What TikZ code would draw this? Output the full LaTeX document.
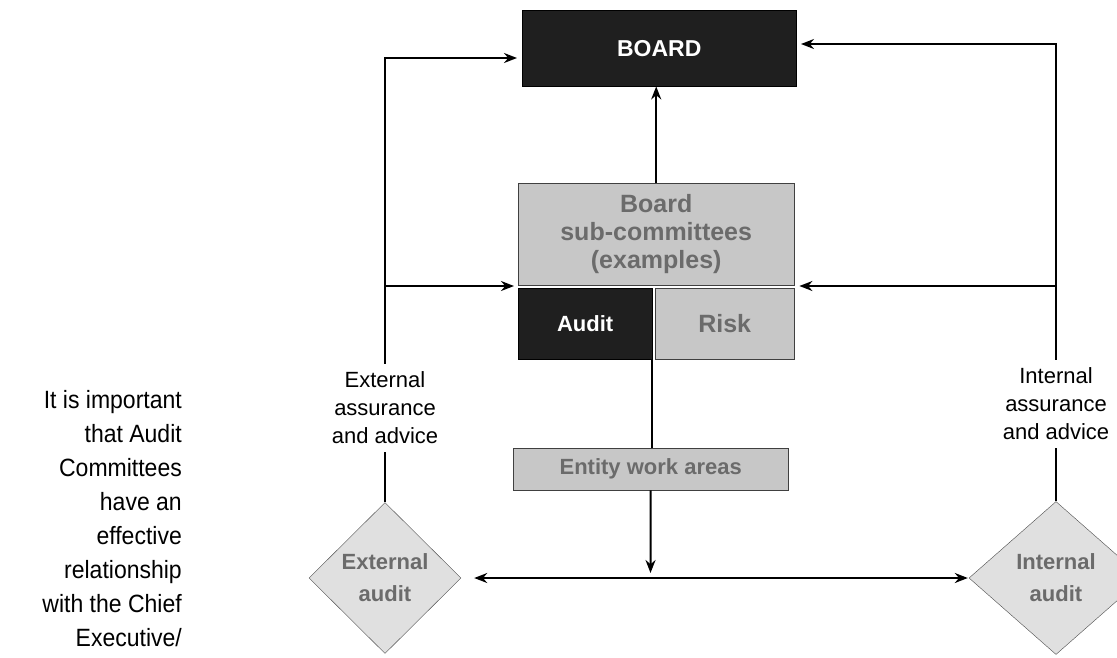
\documentclass[tikz,border=0pt]{standalone}
\usepackage{fontspec}
\setmainfont{Liberation Sans}
\newfontfamily\narrowfont[FakeStretch=0.92]{Liberation Sans}
\usetikzlibrary{shapes.geometric,arrows.meta}
\begin{document}
\begin{tikzpicture}[x=1pt,y=-1pt,
  darkbox/.style={draw=black, fill=black!88, text=white, inner sep=0pt, anchor=north west},
  lightbox/.style={draw=black!75, fill=black!22, text=black!58, inner sep=0pt, anchor=north west, align=center},
  dia/.style={diamond, draw=black!70, fill=black!12, text=black!58, inner sep=0pt, align=center,
    font=\bfseries\fontsize{22}{32}\selectfont},
  lbl/.style={align=center, inner sep=8pt, font=\fontsize{22}{28}\selectfont},
  conn/.style={line width=2pt, draw=black},
  arr/.style={conn, -{Stealth[length=13pt,width=10pt]}},
  darr/.style={conn, {Stealth[length=13pt,width=10pt]}-{Stealth[length=13pt,width=10pt]}}
]
\useasboundingbox (0,0) rectangle (1117,657);

% boxes
\node[darkbox, minimum width=274pt, minimum height=76pt, font=\bfseries\fontsize{23}{26}\selectfont] (board) at (522,10) {BOARD};
\node[lightbox, minimum width=276pt, minimum height=102pt, font=\bfseries\fontsize{25}{28}\selectfont] (subc) at (518,183) {Board\\sub-committees\\(examples)};
\node[darkbox, minimum width=134pt, minimum height=71pt, font=\bfseries\fontsize{22}{25}\selectfont] (audit) at (518,288) {Audit};
\node[lightbox, minimum width=139pt, minimum height=71pt, font=\bfseries\fontsize{25}{28}\selectfont] (risk) at (655,288) {Risk};
\node[lightbox, minimum width=275pt, minimum height=42pt, font=\bfseries\fontsize{22}{26}\selectfont] (entity) at (513,448) {Entity work areas};

% diamonds
\node[dia, minimum width=152pt, minimum height=151pt] (ext) at (385,578) {External\\audit};
\node[dia, minimum width=174pt, minimum height=153pt] (int) at (1056,578) {Internal\\audit};

% labels
\node[lbl] (extlbl) at (385,408) {External\\assurance\\and advice};
\node[lbl] (intlbl) at (1056,404) {Internal\\assurance\\and advice};

\node[anchor=north east, align=right, inner sep=0pt, font=\narrowfont\fontsize{25}{34}\selectfont] (note) at (182,390)
  {It is important\\that Audit\\Committees\\have an\\effective\\relationship\\with the Chief\\Executive/};

% coordinates
\coordinate (bL) at (517,58);
\coordinate (bR) at (801,44);
\coordinate (lj) at (385,286);
\coordinate (rj) at (1056,286);
\coordinate (ed) at (650.5,573);

% connectors
\draw[conn] (ext.north) -- (extlbl.south);
\draw[arr] (extlbl.north) |- (bL);
\draw[arr] (lj) -- ([xshift=-4pt]subc.south west |- lj);
\draw[conn] (int.north) -- (intlbl.south);
\draw[arr] (intlbl.north) |- (bR);
\draw[arr] (rj) -- ([xshift=5pt]subc.south east |- rj);
\draw[arr] (subc.north) -- (subc.north |- board.south);
\draw[conn] (audit.south east) -- (audit.south east |- entity.north);
\draw[arr] (entity.south) -- (ed);
\draw[darr] ([xshift=13pt]ext.east) -- ([xshift=-1pt]int.west);
\end{tikzpicture}
\end{document}
